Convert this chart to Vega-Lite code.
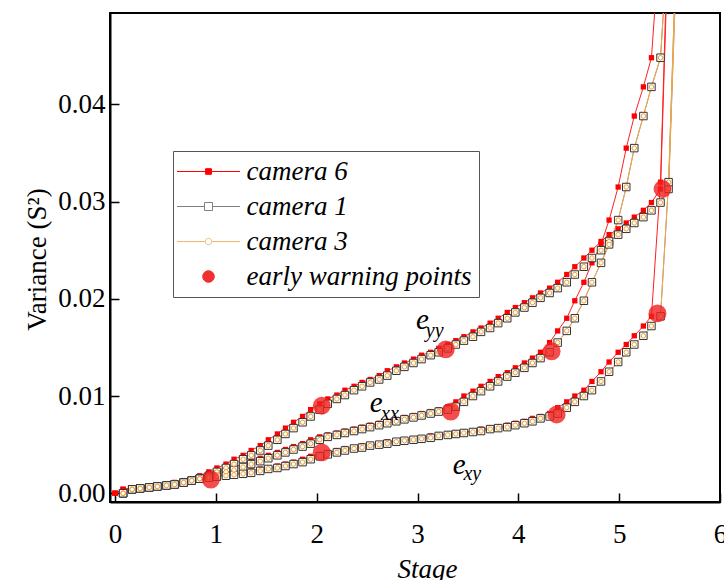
{
"$schema":"https://vega.github.io/schema/vega-lite/v6.json",
"width":610,"height":489,
"autosize":{"type":"none"},
"padding":{"left":110,"top":13,"right":4,"bottom":78},
"background":"white",
"config":{"font":"Liberation Serif","view":{"stroke":"black","strokeWidth":2},"axis":{"grid":false}},
"datasets":{
"curves":[
{"s":"yy","c":"camera 6","x":0,"y":0},{"s":"yy","c":"camera 6","x":0.08,"y":0.0004},{"s":"yy","c":"camera 6","x":0.17,"y":0.0005},{"s":"yy","c":"camera 6","x":0.25,"y":0.0006},{"s":"yy","c":"camera 6","x":0.34,"y":0.0007},{"s":"yy","c":"camera 6","x":0.42,"y":0.0008},{"s":"yy","c":"camera 6","x":0.51,"y":0.0009},{"s":"yy","c":"camera 6","x":0.59,"y":0.0011},{"s":"yy","c":"camera 6","x":0.68,"y":0.0013},{"s":"yy","c":"camera 6","x":0.76,"y":0.0015},
{"s":"yy","c":"camera 6","x":0.84,"y":0.0018},{"s":"yy","c":"camera 6","x":0.93,"y":0.0022},{"s":"yy","c":"camera 6","x":1.01,"y":0.0026},{"s":"yy","c":"camera 6","x":1.10,"y":0.0030},{"s":"yy","c":"camera 6","x":1.18,"y":0.0035},{"s":"yy","c":"camera 6","x":1.27,"y":0.0039},{"s":"yy","c":"camera 6","x":1.35,"y":0.0044},{"s":"yy","c":"camera 6","x":1.44,"y":0.0049},{"s":"yy","c":"camera 6","x":1.52,"y":0.0055},{"s":"yy","c":"camera 6","x":1.61,"y":0.0061},
{"s":"yy","c":"camera 6","x":1.69,"y":0.0067},{"s":"yy","c":"camera 6","x":1.77,"y":0.0073},{"s":"yy","c":"camera 6","x":1.86,"y":0.0079},{"s":"yy","c":"camera 6","x":1.94,"y":0.0086},{"s":"yy","c":"camera 6","x":2.03,"y":0.0092},{"s":"yy","c":"camera 6","x":2.11,"y":0.0097},{"s":"yy","c":"camera 6","x":2.20,"y":0.0101},{"s":"yy","c":"camera 6","x":2.28,"y":0.0106},{"s":"yy","c":"camera 6","x":2.37,"y":0.0110},{"s":"yy","c":"camera 6","x":2.45,"y":0.0114},
{"s":"yy","c":"camera 6","x":2.53,"y":0.0117},{"s":"yy","c":"camera 6","x":2.62,"y":0.0121},{"s":"yy","c":"camera 6","x":2.70,"y":0.0126},{"s":"yy","c":"camera 6","x":2.79,"y":0.0130},{"s":"yy","c":"camera 6","x":2.87,"y":0.0134},{"s":"yy","c":"camera 6","x":2.96,"y":0.0138},{"s":"yy","c":"camera 6","x":3.04,"y":0.0142},{"s":"yy","c":"camera 6","x":3.13,"y":0.0145},{"s":"yy","c":"camera 6","x":3.21,"y":0.0149},{"s":"yy","c":"camera 6","x":3.30,"y":0.0153},
{"s":"yy","c":"camera 6","x":3.38,"y":0.0157},{"s":"yy","c":"camera 6","x":3.46,"y":0.0161},{"s":"yy","c":"camera 6","x":3.55,"y":0.0166},{"s":"yy","c":"camera 6","x":3.63,"y":0.0170},{"s":"yy","c":"camera 6","x":3.72,"y":0.0175},{"s":"yy","c":"camera 6","x":3.80,"y":0.0180},{"s":"yy","c":"camera 6","x":3.89,"y":0.0186},{"s":"yy","c":"camera 6","x":3.97,"y":0.0191},{"s":"yy","c":"camera 6","x":4.06,"y":0.0196},{"s":"yy","c":"camera 6","x":4.14,"y":0.0201},
{"s":"yy","c":"camera 6","x":4.22,"y":0.0206},{"s":"yy","c":"camera 6","x":4.31,"y":0.0211},{"s":"yy","c":"camera 6","x":4.39,"y":0.0217},{"s":"yy","c":"camera 6","x":4.48,"y":0.0225},{"s":"yy","c":"camera 6","x":4.56,"y":0.0233},{"s":"yy","c":"camera 6","x":4.65,"y":0.0242},{"s":"yy","c":"camera 6","x":4.73,"y":0.0250},{"s":"yy","c":"camera 6","x":4.82,"y":0.0259},{"s":"yy","c":"camera 6","x":4.90,"y":0.0266},{"s":"yy","c":"camera 6","x":4.99,"y":0.0272},
{"s":"yy","c":"camera 6","x":5.07,"y":0.0278},{"s":"yy","c":"camera 6","x":5.15,"y":0.0284},{"s":"yy","c":"camera 6","x":5.24,"y":0.0291},{"s":"yy","c":"camera 6","x":5.32,"y":0.0299},{"s":"yy","c":"camera 6","x":5.41,"y":0.0313},{"s":"yy","c":"camera 6","x":5.49,"y":0.0580},
{"s":"xx","c":"camera 6","x":0,"y":0},{"s":"xx","c":"camera 6","x":0.08,"y":0.0004},{"s":"xx","c":"camera 6","x":0.17,"y":0.0005},{"s":"xx","c":"camera 6","x":0.25,"y":0.0006},{"s":"xx","c":"camera 6","x":0.34,"y":0.0007},{"s":"xx","c":"camera 6","x":0.42,"y":0.0008},{"s":"xx","c":"camera 6","x":0.51,"y":0.0009},{"s":"xx","c":"camera 6","x":0.59,"y":0.0011},{"s":"xx","c":"camera 6","x":0.68,"y":0.0013},{"s":"xx","c":"camera 6","x":0.76,"y":0.0015},
{"s":"xx","c":"camera 6","x":0.84,"y":0.0017},{"s":"xx","c":"camera 6","x":0.93,"y":0.0019},{"s":"xx","c":"camera 6","x":1.01,"y":0.0022},{"s":"xx","c":"camera 6","x":1.10,"y":0.0024},{"s":"xx","c":"camera 6","x":1.18,"y":0.0027},{"s":"xx","c":"camera 6","x":1.27,"y":0.0030},{"s":"xx","c":"camera 6","x":1.35,"y":0.0033},{"s":"xx","c":"camera 6","x":1.44,"y":0.0036},{"s":"xx","c":"camera 6","x":1.52,"y":0.0039},{"s":"xx","c":"camera 6","x":1.61,"y":0.0042},
{"s":"xx","c":"camera 6","x":1.69,"y":0.0045},{"s":"xx","c":"camera 6","x":1.77,"y":0.0048},{"s":"xx","c":"camera 6","x":1.86,"y":0.0051},{"s":"xx","c":"camera 6","x":1.94,"y":0.0055},{"s":"xx","c":"camera 6","x":2.03,"y":0.0058},{"s":"xx","c":"camera 6","x":2.11,"y":0.0060},{"s":"xx","c":"camera 6","x":2.20,"y":0.0062},{"s":"xx","c":"camera 6","x":2.28,"y":0.0064},{"s":"xx","c":"camera 6","x":2.37,"y":0.0066},{"s":"xx","c":"camera 6","x":2.45,"y":0.0068},
{"s":"xx","c":"camera 6","x":2.53,"y":0.0070},{"s":"xx","c":"camera 6","x":2.62,"y":0.0072},{"s":"xx","c":"camera 6","x":2.70,"y":0.0074},{"s":"xx","c":"camera 6","x":2.79,"y":0.0076},{"s":"xx","c":"camera 6","x":2.87,"y":0.0078},{"s":"xx","c":"camera 6","x":2.96,"y":0.0080},{"s":"xx","c":"camera 6","x":3.04,"y":0.0082},{"s":"xx","c":"camera 6","x":3.13,"y":0.0084},{"s":"xx","c":"camera 6","x":3.21,"y":0.0086},{"s":"xx","c":"camera 6","x":3.30,"y":0.0089},
{"s":"xx","c":"camera 6","x":3.38,"y":0.0094},{"s":"xx","c":"camera 6","x":3.46,"y":0.0100},{"s":"xx","c":"camera 6","x":3.55,"y":0.0105},{"s":"xx","c":"camera 6","x":3.63,"y":0.0110},{"s":"xx","c":"camera 6","x":3.72,"y":0.0115},{"s":"xx","c":"camera 6","x":3.80,"y":0.0120},{"s":"xx","c":"camera 6","x":3.89,"y":0.0124},{"s":"xx","c":"camera 6","x":3.97,"y":0.0129},{"s":"xx","c":"camera 6","x":4.06,"y":0.0134},{"s":"xx","c":"camera 6","x":4.14,"y":0.0139},
{"s":"xx","c":"camera 6","x":4.22,"y":0.0145},{"s":"xx","c":"camera 6","x":4.31,"y":0.0155},{"s":"xx","c":"camera 6","x":4.39,"y":0.0167},{"s":"xx","c":"camera 6","x":4.48,"y":0.0180},{"s":"xx","c":"camera 6","x":4.56,"y":0.0198},{"s":"xx","c":"camera 6","x":4.65,"y":0.0217},{"s":"xx","c":"camera 6","x":4.73,"y":0.0237},{"s":"xx","c":"camera 6","x":4.82,"y":0.0256},{"s":"xx","c":"camera 6","x":4.90,"y":0.0281},{"s":"xx","c":"camera 6","x":4.99,"y":0.0315},
{"s":"xx","c":"camera 6","x":5.07,"y":0.0355},{"s":"xx","c":"camera 6","x":5.15,"y":0.0388},{"s":"xx","c":"camera 6","x":5.24,"y":0.0418},{"s":"xx","c":"camera 6","x":5.32,"y":0.0448},{"s":"xx","c":"camera 6","x":5.41,"y":0.0580},
{"s":"xy","c":"camera 6","x":0,"y":0},{"s":"xy","c":"camera 6","x":0.08,"y":0.0004},{"s":"xy","c":"camera 6","x":0.17,"y":0.0005},{"s":"xy","c":"camera 6","x":0.25,"y":0.0006},{"s":"xy","c":"camera 6","x":0.34,"y":0.0007},{"s":"xy","c":"camera 6","x":0.42,"y":0.0008},{"s":"xy","c":"camera 6","x":0.51,"y":0.0009},{"s":"xy","c":"camera 6","x":0.59,"y":0.0011},{"s":"xy","c":"camera 6","x":0.68,"y":0.0013},{"s":"xy","c":"camera 6","x":0.76,"y":0.0015},
{"s":"xy","c":"camera 6","x":0.84,"y":0.0016},{"s":"xy","c":"camera 6","x":0.93,"y":0.0017},{"s":"xy","c":"camera 6","x":1.01,"y":0.0018},{"s":"xy","c":"camera 6","x":1.10,"y":0.0019},{"s":"xy","c":"camera 6","x":1.18,"y":0.0020},{"s":"xy","c":"camera 6","x":1.27,"y":0.0021},{"s":"xy","c":"camera 6","x":1.35,"y":0.0023},{"s":"xy","c":"camera 6","x":1.44,"y":0.0025},{"s":"xy","c":"camera 6","x":1.52,"y":0.0026},{"s":"xy","c":"camera 6","x":1.61,"y":0.0028},
{"s":"xy","c":"camera 6","x":1.69,"y":0.0030},{"s":"xy","c":"camera 6","x":1.77,"y":0.0032},{"s":"xy","c":"camera 6","x":1.86,"y":0.0035},{"s":"xy","c":"camera 6","x":1.94,"y":0.0038},{"s":"xy","c":"camera 6","x":2.03,"y":0.0040},{"s":"xy","c":"camera 6","x":2.11,"y":0.0042},{"s":"xy","c":"camera 6","x":2.20,"y":0.0044},{"s":"xy","c":"camera 6","x":2.28,"y":0.0046},{"s":"xy","c":"camera 6","x":2.37,"y":0.0047},{"s":"xy","c":"camera 6","x":2.45,"y":0.0049},
{"s":"xy","c":"camera 6","x":2.53,"y":0.0050},{"s":"xy","c":"camera 6","x":2.62,"y":0.0051},{"s":"xy","c":"camera 6","x":2.70,"y":0.0053},{"s":"xy","c":"camera 6","x":2.79,"y":0.0054},{"s":"xy","c":"camera 6","x":2.87,"y":0.0055},{"s":"xy","c":"camera 6","x":2.96,"y":0.0056},{"s":"xy","c":"camera 6","x":3.04,"y":0.0057},{"s":"xy","c":"camera 6","x":3.13,"y":0.0059},{"s":"xy","c":"camera 6","x":3.21,"y":0.0060},{"s":"xy","c":"camera 6","x":3.30,"y":0.0061},
{"s":"xy","c":"camera 6","x":3.38,"y":0.0062},{"s":"xy","c":"camera 6","x":3.46,"y":0.0063},{"s":"xy","c":"camera 6","x":3.55,"y":0.0064},{"s":"xy","c":"camera 6","x":3.63,"y":0.0066},{"s":"xy","c":"camera 6","x":3.72,"y":0.0067},{"s":"xy","c":"camera 6","x":3.80,"y":0.0068},{"s":"xy","c":"camera 6","x":3.89,"y":0.0070},{"s":"xy","c":"camera 6","x":3.97,"y":0.0072},{"s":"xy","c":"camera 6","x":4.06,"y":0.0074},{"s":"xy","c":"camera 6","x":4.14,"y":0.0077},
{"s":"xy","c":"camera 6","x":4.22,"y":0.0079},{"s":"xy","c":"camera 6","x":4.31,"y":0.0082},{"s":"xy","c":"camera 6","x":4.39,"y":0.0088},{"s":"xy","c":"camera 6","x":4.48,"y":0.0094},{"s":"xy","c":"camera 6","x":4.56,"y":0.0100},{"s":"xy","c":"camera 6","x":4.65,"y":0.0106},{"s":"xy","c":"camera 6","x":4.73,"y":0.0115},{"s":"xy","c":"camera 6","x":4.82,"y":0.0125},{"s":"xy","c":"camera 6","x":4.90,"y":0.0135},{"s":"xy","c":"camera 6","x":4.99,"y":0.0145},
{"s":"xy","c":"camera 6","x":5.07,"y":0.0153},{"s":"xy","c":"camera 6","x":5.15,"y":0.0162},{"s":"xy","c":"camera 6","x":5.24,"y":0.0172},{"s":"xy","c":"camera 6","x":5.32,"y":0.0182},{"s":"xy","c":"camera 6","x":5.41,"y":0.0320},{"s":"xy","c":"camera 6","x":5.49,"y":0.0600},

{"s":"yy","c":"camera 1","x":0.08,"y":0},{"s":"yy","c":"camera 1","x":0.17,"y":0.0004},{"s":"yy","c":"camera 1","x":0.25,"y":0.0005},{"s":"yy","c":"camera 1","x":0.34,"y":0.0006},{"s":"yy","c":"camera 1","x":0.42,"y":0.0007},{"s":"yy","c":"camera 1","x":0.51,"y":0.0008},{"s":"yy","c":"camera 1","x":0.59,"y":0.0009},{"s":"yy","c":"camera 1","x":0.68,"y":0.0011},{"s":"yy","c":"camera 1","x":0.76,"y":0.0013},{"s":"yy","c":"camera 1","x":0.84,"y":0.0015},
{"s":"yy","c":"camera 1","x":0.93,"y":0.0018},{"s":"yy","c":"camera 1","x":1.01,"y":0.0022},{"s":"yy","c":"camera 1","x":1.10,"y":0.0026},{"s":"yy","c":"camera 1","x":1.18,"y":0.0030},{"s":"yy","c":"camera 1","x":1.27,"y":0.0035},{"s":"yy","c":"camera 1","x":1.35,"y":0.0039},{"s":"yy","c":"camera 1","x":1.44,"y":0.0044},{"s":"yy","c":"camera 1","x":1.52,"y":0.0049},{"s":"yy","c":"camera 1","x":1.61,"y":0.0055},{"s":"yy","c":"camera 1","x":1.69,"y":0.0061},
{"s":"yy","c":"camera 1","x":1.77,"y":0.0067},{"s":"yy","c":"camera 1","x":1.86,"y":0.0073},{"s":"yy","c":"camera 1","x":1.94,"y":0.0079},{"s":"yy","c":"camera 1","x":2.03,"y":0.0086},{"s":"yy","c":"camera 1","x":2.11,"y":0.0092},{"s":"yy","c":"camera 1","x":2.20,"y":0.0097},{"s":"yy","c":"camera 1","x":2.28,"y":0.0101},{"s":"yy","c":"camera 1","x":2.37,"y":0.0106},{"s":"yy","c":"camera 1","x":2.45,"y":0.0110},{"s":"yy","c":"camera 1","x":2.53,"y":0.0114},
{"s":"yy","c":"camera 1","x":2.62,"y":0.0117},{"s":"yy","c":"camera 1","x":2.70,"y":0.0121},{"s":"yy","c":"camera 1","x":2.79,"y":0.0126},{"s":"yy","c":"camera 1","x":2.87,"y":0.0130},{"s":"yy","c":"camera 1","x":2.96,"y":0.0134},{"s":"yy","c":"camera 1","x":3.04,"y":0.0138},{"s":"yy","c":"camera 1","x":3.13,"y":0.0142},{"s":"yy","c":"camera 1","x":3.21,"y":0.0145},{"s":"yy","c":"camera 1","x":3.30,"y":0.0149},{"s":"yy","c":"camera 1","x":3.38,"y":0.0153},
{"s":"yy","c":"camera 1","x":3.46,"y":0.0157},{"s":"yy","c":"camera 1","x":3.55,"y":0.0161},{"s":"yy","c":"camera 1","x":3.63,"y":0.0166},{"s":"yy","c":"camera 1","x":3.72,"y":0.0170},{"s":"yy","c":"camera 1","x":3.80,"y":0.0175},{"s":"yy","c":"camera 1","x":3.89,"y":0.0180},{"s":"yy","c":"camera 1","x":3.97,"y":0.0186},{"s":"yy","c":"camera 1","x":4.06,"y":0.0191},{"s":"yy","c":"camera 1","x":4.14,"y":0.0196},{"s":"yy","c":"camera 1","x":4.22,"y":0.0201},
{"s":"yy","c":"camera 1","x":4.31,"y":0.0206},{"s":"yy","c":"camera 1","x":4.39,"y":0.0211},{"s":"yy","c":"camera 1","x":4.48,"y":0.0217},{"s":"yy","c":"camera 1","x":4.56,"y":0.0225},{"s":"yy","c":"camera 1","x":4.65,"y":0.0233},{"s":"yy","c":"camera 1","x":4.73,"y":0.0242},{"s":"yy","c":"camera 1","x":4.82,"y":0.0250},{"s":"yy","c":"camera 1","x":4.90,"y":0.0259},{"s":"yy","c":"camera 1","x":4.99,"y":0.0266},{"s":"yy","c":"camera 1","x":5.07,"y":0.0272},
{"s":"yy","c":"camera 1","x":5.15,"y":0.0278},{"s":"yy","c":"camera 1","x":5.24,"y":0.0284},{"s":"yy","c":"camera 1","x":5.32,"y":0.0291},{"s":"yy","c":"camera 1","x":5.41,"y":0.0299},{"s":"yy","c":"camera 1","x":5.49,"y":0.0313},{"s":"yy","c":"camera 1","x":5.58,"y":0.0580},
{"s":"xx","c":"camera 1","x":0.08,"y":0},{"s":"xx","c":"camera 1","x":0.17,"y":0.0004},{"s":"xx","c":"camera 1","x":0.25,"y":0.0005},{"s":"xx","c":"camera 1","x":0.34,"y":0.0006},{"s":"xx","c":"camera 1","x":0.42,"y":0.0007},{"s":"xx","c":"camera 1","x":0.51,"y":0.0008},{"s":"xx","c":"camera 1","x":0.59,"y":0.0009},{"s":"xx","c":"camera 1","x":0.68,"y":0.0011},{"s":"xx","c":"camera 1","x":0.76,"y":0.0013},{"s":"xx","c":"camera 1","x":0.84,"y":0.0015},
{"s":"xx","c":"camera 1","x":0.93,"y":0.0017},{"s":"xx","c":"camera 1","x":1.01,"y":0.0019},{"s":"xx","c":"camera 1","x":1.10,"y":0.0022},{"s":"xx","c":"camera 1","x":1.18,"y":0.0024},{"s":"xx","c":"camera 1","x":1.27,"y":0.0027},{"s":"xx","c":"camera 1","x":1.35,"y":0.0030},{"s":"xx","c":"camera 1","x":1.44,"y":0.0033},{"s":"xx","c":"camera 1","x":1.52,"y":0.0036},{"s":"xx","c":"camera 1","x":1.61,"y":0.0039},{"s":"xx","c":"camera 1","x":1.69,"y":0.0042},
{"s":"xx","c":"camera 1","x":1.77,"y":0.0045},{"s":"xx","c":"camera 1","x":1.86,"y":0.0048},{"s":"xx","c":"camera 1","x":1.94,"y":0.0051},{"s":"xx","c":"camera 1","x":2.03,"y":0.0055},{"s":"xx","c":"camera 1","x":2.11,"y":0.0058},{"s":"xx","c":"camera 1","x":2.20,"y":0.0060},{"s":"xx","c":"camera 1","x":2.28,"y":0.0062},{"s":"xx","c":"camera 1","x":2.37,"y":0.0064},{"s":"xx","c":"camera 1","x":2.45,"y":0.0066},{"s":"xx","c":"camera 1","x":2.53,"y":0.0068},
{"s":"xx","c":"camera 1","x":2.62,"y":0.0070},{"s":"xx","c":"camera 1","x":2.70,"y":0.0072},{"s":"xx","c":"camera 1","x":2.79,"y":0.0074},{"s":"xx","c":"camera 1","x":2.87,"y":0.0076},{"s":"xx","c":"camera 1","x":2.96,"y":0.0078},{"s":"xx","c":"camera 1","x":3.04,"y":0.0080},{"s":"xx","c":"camera 1","x":3.13,"y":0.0082},{"s":"xx","c":"camera 1","x":3.21,"y":0.0084},{"s":"xx","c":"camera 1","x":3.30,"y":0.0086},{"s":"xx","c":"camera 1","x":3.38,"y":0.0089},
{"s":"xx","c":"camera 1","x":3.46,"y":0.0094},{"s":"xx","c":"camera 1","x":3.55,"y":0.0100},{"s":"xx","c":"camera 1","x":3.63,"y":0.0105},{"s":"xx","c":"camera 1","x":3.72,"y":0.0110},{"s":"xx","c":"camera 1","x":3.80,"y":0.0115},{"s":"xx","c":"camera 1","x":3.89,"y":0.0120},{"s":"xx","c":"camera 1","x":3.97,"y":0.0124},{"s":"xx","c":"camera 1","x":4.06,"y":0.0129},{"s":"xx","c":"camera 1","x":4.14,"y":0.0134},{"s":"xx","c":"camera 1","x":4.22,"y":0.0139},
{"s":"xx","c":"camera 1","x":4.31,"y":0.0145},{"s":"xx","c":"camera 1","x":4.39,"y":0.0155},{"s":"xx","c":"camera 1","x":4.48,"y":0.0167},{"s":"xx","c":"camera 1","x":4.56,"y":0.0180},{"s":"xx","c":"camera 1","x":4.65,"y":0.0198},{"s":"xx","c":"camera 1","x":4.73,"y":0.0217},{"s":"xx","c":"camera 1","x":4.82,"y":0.0237},{"s":"xx","c":"camera 1","x":4.90,"y":0.0256},{"s":"xx","c":"camera 1","x":4.99,"y":0.0281},{"s":"xx","c":"camera 1","x":5.07,"y":0.0315},
{"s":"xx","c":"camera 1","x":5.15,"y":0.0355},{"s":"xx","c":"camera 1","x":5.24,"y":0.0388},{"s":"xx","c":"camera 1","x":5.32,"y":0.0418},{"s":"xx","c":"camera 1","x":5.41,"y":0.0448},{"s":"xx","c":"camera 1","x":5.49,"y":0.0580},
{"s":"xy","c":"camera 1","x":0.08,"y":0},{"s":"xy","c":"camera 1","x":0.17,"y":0.0004},{"s":"xy","c":"camera 1","x":0.25,"y":0.0005},{"s":"xy","c":"camera 1","x":0.34,"y":0.0006},{"s":"xy","c":"camera 1","x":0.42,"y":0.0007},{"s":"xy","c":"camera 1","x":0.51,"y":0.0008},{"s":"xy","c":"camera 1","x":0.59,"y":0.0009},{"s":"xy","c":"camera 1","x":0.68,"y":0.0011},{"s":"xy","c":"camera 1","x":0.76,"y":0.0013},{"s":"xy","c":"camera 1","x":0.84,"y":0.0015},
{"s":"xy","c":"camera 1","x":0.93,"y":0.0016},{"s":"xy","c":"camera 1","x":1.01,"y":0.0017},{"s":"xy","c":"camera 1","x":1.10,"y":0.0018},{"s":"xy","c":"camera 1","x":1.18,"y":0.0019},{"s":"xy","c":"camera 1","x":1.27,"y":0.0020},{"s":"xy","c":"camera 1","x":1.35,"y":0.0021},{"s":"xy","c":"camera 1","x":1.44,"y":0.0023},{"s":"xy","c":"camera 1","x":1.52,"y":0.0025},{"s":"xy","c":"camera 1","x":1.61,"y":0.0026},{"s":"xy","c":"camera 1","x":1.69,"y":0.0028},
{"s":"xy","c":"camera 1","x":1.77,"y":0.0030},{"s":"xy","c":"camera 1","x":1.86,"y":0.0032},{"s":"xy","c":"camera 1","x":1.94,"y":0.0035},{"s":"xy","c":"camera 1","x":2.03,"y":0.0038},{"s":"xy","c":"camera 1","x":2.11,"y":0.0040},{"s":"xy","c":"camera 1","x":2.20,"y":0.0042},{"s":"xy","c":"camera 1","x":2.28,"y":0.0044},{"s":"xy","c":"camera 1","x":2.37,"y":0.0046},{"s":"xy","c":"camera 1","x":2.45,"y":0.0047},{"s":"xy","c":"camera 1","x":2.53,"y":0.0049},
{"s":"xy","c":"camera 1","x":2.62,"y":0.0050},{"s":"xy","c":"camera 1","x":2.70,"y":0.0051},{"s":"xy","c":"camera 1","x":2.79,"y":0.0053},{"s":"xy","c":"camera 1","x":2.87,"y":0.0054},{"s":"xy","c":"camera 1","x":2.96,"y":0.0055},{"s":"xy","c":"camera 1","x":3.04,"y":0.0056},{"s":"xy","c":"camera 1","x":3.13,"y":0.0057},{"s":"xy","c":"camera 1","x":3.21,"y":0.0059},{"s":"xy","c":"camera 1","x":3.30,"y":0.0060},{"s":"xy","c":"camera 1","x":3.38,"y":0.0061},
{"s":"xy","c":"camera 1","x":3.46,"y":0.0062},{"s":"xy","c":"camera 1","x":3.55,"y":0.0063},{"s":"xy","c":"camera 1","x":3.63,"y":0.0064},{"s":"xy","c":"camera 1","x":3.72,"y":0.0066},{"s":"xy","c":"camera 1","x":3.80,"y":0.0067},{"s":"xy","c":"camera 1","x":3.89,"y":0.0068},{"s":"xy","c":"camera 1","x":3.97,"y":0.0070},{"s":"xy","c":"camera 1","x":4.06,"y":0.0072},{"s":"xy","c":"camera 1","x":4.14,"y":0.0074},{"s":"xy","c":"camera 1","x":4.22,"y":0.0077},
{"s":"xy","c":"camera 1","x":4.31,"y":0.0079},{"s":"xy","c":"camera 1","x":4.39,"y":0.0082},{"s":"xy","c":"camera 1","x":4.48,"y":0.0088},{"s":"xy","c":"camera 1","x":4.56,"y":0.0094},{"s":"xy","c":"camera 1","x":4.65,"y":0.0100},{"s":"xy","c":"camera 1","x":4.73,"y":0.0106},{"s":"xy","c":"camera 1","x":4.82,"y":0.0115},{"s":"xy","c":"camera 1","x":4.90,"y":0.0125},{"s":"xy","c":"camera 1","x":4.99,"y":0.0135},{"s":"xy","c":"camera 1","x":5.07,"y":0.0145},
{"s":"xy","c":"camera 1","x":5.15,"y":0.0153},{"s":"xy","c":"camera 1","x":5.24,"y":0.0162},{"s":"xy","c":"camera 1","x":5.32,"y":0.0172},{"s":"xy","c":"camera 1","x":5.41,"y":0.0182},{"s":"xy","c":"camera 1","x":5.49,"y":0.0320},{"s":"xy","c":"camera 1","x":5.58,"y":0.0600},

{"s":"yy","c":"camera 3","x":0.08,"y":0},{"s":"yy","c":"camera 3","x":0.17,"y":0.0004},{"s":"yy","c":"camera 3","x":0.25,"y":0.0005},{"s":"yy","c":"camera 3","x":0.34,"y":0.0006},{"s":"yy","c":"camera 3","x":0.42,"y":0.0007},{"s":"yy","c":"camera 3","x":0.51,"y":0.0008},{"s":"yy","c":"camera 3","x":0.59,"y":0.0009},{"s":"yy","c":"camera 3","x":0.68,"y":0.0011},{"s":"yy","c":"camera 3","x":0.76,"y":0.0013},{"s":"yy","c":"camera 3","x":0.84,"y":0.0015},
{"s":"yy","c":"camera 3","x":0.93,"y":0.0018},{"s":"yy","c":"camera 3","x":1.01,"y":0.0022},{"s":"yy","c":"camera 3","x":1.10,"y":0.0026},{"s":"yy","c":"camera 3","x":1.18,"y":0.0030},{"s":"yy","c":"camera 3","x":1.27,"y":0.0035},{"s":"yy","c":"camera 3","x":1.35,"y":0.0039},{"s":"yy","c":"camera 3","x":1.44,"y":0.0044},{"s":"yy","c":"camera 3","x":1.52,"y":0.0049},{"s":"yy","c":"camera 3","x":1.61,"y":0.0055},{"s":"yy","c":"camera 3","x":1.69,"y":0.0061},
{"s":"yy","c":"camera 3","x":1.77,"y":0.0067},{"s":"yy","c":"camera 3","x":1.86,"y":0.0073},{"s":"yy","c":"camera 3","x":1.94,"y":0.0079},{"s":"yy","c":"camera 3","x":2.03,"y":0.0086},{"s":"yy","c":"camera 3","x":2.11,"y":0.0092},{"s":"yy","c":"camera 3","x":2.20,"y":0.0097},{"s":"yy","c":"camera 3","x":2.28,"y":0.0101},{"s":"yy","c":"camera 3","x":2.37,"y":0.0106},{"s":"yy","c":"camera 3","x":2.45,"y":0.0110},{"s":"yy","c":"camera 3","x":2.53,"y":0.0114},
{"s":"yy","c":"camera 3","x":2.62,"y":0.0117},{"s":"yy","c":"camera 3","x":2.70,"y":0.0121},{"s":"yy","c":"camera 3","x":2.79,"y":0.0126},{"s":"yy","c":"camera 3","x":2.87,"y":0.0130},{"s":"yy","c":"camera 3","x":2.96,"y":0.0134},{"s":"yy","c":"camera 3","x":3.04,"y":0.0138},{"s":"yy","c":"camera 3","x":3.13,"y":0.0142},{"s":"yy","c":"camera 3","x":3.21,"y":0.0145},{"s":"yy","c":"camera 3","x":3.30,"y":0.0149},{"s":"yy","c":"camera 3","x":3.38,"y":0.0153},
{"s":"yy","c":"camera 3","x":3.46,"y":0.0157},{"s":"yy","c":"camera 3","x":3.55,"y":0.0161},{"s":"yy","c":"camera 3","x":3.63,"y":0.0166},{"s":"yy","c":"camera 3","x":3.72,"y":0.0170},{"s":"yy","c":"camera 3","x":3.80,"y":0.0175},{"s":"yy","c":"camera 3","x":3.89,"y":0.0180},{"s":"yy","c":"camera 3","x":3.97,"y":0.0186},{"s":"yy","c":"camera 3","x":4.06,"y":0.0191},{"s":"yy","c":"camera 3","x":4.14,"y":0.0196},{"s":"yy","c":"camera 3","x":4.22,"y":0.0201},
{"s":"yy","c":"camera 3","x":4.31,"y":0.0206},{"s":"yy","c":"camera 3","x":4.39,"y":0.0211},{"s":"yy","c":"camera 3","x":4.48,"y":0.0217},{"s":"yy","c":"camera 3","x":4.56,"y":0.0225},{"s":"yy","c":"camera 3","x":4.65,"y":0.0233},{"s":"yy","c":"camera 3","x":4.73,"y":0.0242},{"s":"yy","c":"camera 3","x":4.82,"y":0.0250},{"s":"yy","c":"camera 3","x":4.90,"y":0.0259},{"s":"yy","c":"camera 3","x":4.99,"y":0.0266},{"s":"yy","c":"camera 3","x":5.07,"y":0.0272},
{"s":"yy","c":"camera 3","x":5.15,"y":0.0278},{"s":"yy","c":"camera 3","x":5.24,"y":0.0284},{"s":"yy","c":"camera 3","x":5.32,"y":0.0291},{"s":"yy","c":"camera 3","x":5.41,"y":0.0299},{"s":"yy","c":"camera 3","x":5.49,"y":0.0313},{"s":"yy","c":"camera 3","x":5.58,"y":0.0580},
{"s":"xx","c":"camera 3","x":0.08,"y":0},{"s":"xx","c":"camera 3","x":0.17,"y":0.0004},{"s":"xx","c":"camera 3","x":0.25,"y":0.0005},{"s":"xx","c":"camera 3","x":0.34,"y":0.0006},{"s":"xx","c":"camera 3","x":0.42,"y":0.0007},{"s":"xx","c":"camera 3","x":0.51,"y":0.0008},{"s":"xx","c":"camera 3","x":0.59,"y":0.0009},{"s":"xx","c":"camera 3","x":0.68,"y":0.0011},{"s":"xx","c":"camera 3","x":0.76,"y":0.0013},{"s":"xx","c":"camera 3","x":0.84,"y":0.0015},
{"s":"xx","c":"camera 3","x":0.93,"y":0.0017},{"s":"xx","c":"camera 3","x":1.01,"y":0.0019},{"s":"xx","c":"camera 3","x":1.10,"y":0.0022},{"s":"xx","c":"camera 3","x":1.18,"y":0.0024},{"s":"xx","c":"camera 3","x":1.27,"y":0.0027},{"s":"xx","c":"camera 3","x":1.35,"y":0.0030},{"s":"xx","c":"camera 3","x":1.44,"y":0.0033},{"s":"xx","c":"camera 3","x":1.52,"y":0.0036},{"s":"xx","c":"camera 3","x":1.61,"y":0.0039},{"s":"xx","c":"camera 3","x":1.69,"y":0.0042},
{"s":"xx","c":"camera 3","x":1.77,"y":0.0045},{"s":"xx","c":"camera 3","x":1.86,"y":0.0048},{"s":"xx","c":"camera 3","x":1.94,"y":0.0051},{"s":"xx","c":"camera 3","x":2.03,"y":0.0055},{"s":"xx","c":"camera 3","x":2.11,"y":0.0058},{"s":"xx","c":"camera 3","x":2.20,"y":0.0060},{"s":"xx","c":"camera 3","x":2.28,"y":0.0062},{"s":"xx","c":"camera 3","x":2.37,"y":0.0064},{"s":"xx","c":"camera 3","x":2.45,"y":0.0066},{"s":"xx","c":"camera 3","x":2.53,"y":0.0068},
{"s":"xx","c":"camera 3","x":2.62,"y":0.0070},{"s":"xx","c":"camera 3","x":2.70,"y":0.0072},{"s":"xx","c":"camera 3","x":2.79,"y":0.0074},{"s":"xx","c":"camera 3","x":2.87,"y":0.0076},{"s":"xx","c":"camera 3","x":2.96,"y":0.0078},{"s":"xx","c":"camera 3","x":3.04,"y":0.0080},{"s":"xx","c":"camera 3","x":3.13,"y":0.0082},{"s":"xx","c":"camera 3","x":3.21,"y":0.0084},{"s":"xx","c":"camera 3","x":3.30,"y":0.0086},{"s":"xx","c":"camera 3","x":3.38,"y":0.0089},
{"s":"xx","c":"camera 3","x":3.46,"y":0.0094},{"s":"xx","c":"camera 3","x":3.55,"y":0.0100},{"s":"xx","c":"camera 3","x":3.63,"y":0.0105},{"s":"xx","c":"camera 3","x":3.72,"y":0.0110},{"s":"xx","c":"camera 3","x":3.80,"y":0.0115},{"s":"xx","c":"camera 3","x":3.89,"y":0.0120},{"s":"xx","c":"camera 3","x":3.97,"y":0.0124},{"s":"xx","c":"camera 3","x":4.06,"y":0.0129},{"s":"xx","c":"camera 3","x":4.14,"y":0.0134},{"s":"xx","c":"camera 3","x":4.22,"y":0.0139},
{"s":"xx","c":"camera 3","x":4.31,"y":0.0145},{"s":"xx","c":"camera 3","x":4.39,"y":0.0155},{"s":"xx","c":"camera 3","x":4.48,"y":0.0167},{"s":"xx","c":"camera 3","x":4.56,"y":0.0180},{"s":"xx","c":"camera 3","x":4.65,"y":0.0198},{"s":"xx","c":"camera 3","x":4.73,"y":0.0217},{"s":"xx","c":"camera 3","x":4.82,"y":0.0237},{"s":"xx","c":"camera 3","x":4.90,"y":0.0256},{"s":"xx","c":"camera 3","x":4.99,"y":0.0281},{"s":"xx","c":"camera 3","x":5.07,"y":0.0315},
{"s":"xx","c":"camera 3","x":5.15,"y":0.0355},{"s":"xx","c":"camera 3","x":5.24,"y":0.0388},{"s":"xx","c":"camera 3","x":5.32,"y":0.0418},{"s":"xx","c":"camera 3","x":5.41,"y":0.0448},{"s":"xx","c":"camera 3","x":5.49,"y":0.0580},
{"s":"xy","c":"camera 3","x":0.08,"y":0},{"s":"xy","c":"camera 3","x":0.17,"y":0.0004},{"s":"xy","c":"camera 3","x":0.25,"y":0.0005},{"s":"xy","c":"camera 3","x":0.34,"y":0.0006},{"s":"xy","c":"camera 3","x":0.42,"y":0.0007},{"s":"xy","c":"camera 3","x":0.51,"y":0.0008},{"s":"xy","c":"camera 3","x":0.59,"y":0.0009},{"s":"xy","c":"camera 3","x":0.68,"y":0.0011},{"s":"xy","c":"camera 3","x":0.76,"y":0.0013},{"s":"xy","c":"camera 3","x":0.84,"y":0.0015},
{"s":"xy","c":"camera 3","x":0.93,"y":0.0016},{"s":"xy","c":"camera 3","x":1.01,"y":0.0017},{"s":"xy","c":"camera 3","x":1.10,"y":0.0018},{"s":"xy","c":"camera 3","x":1.18,"y":0.0019},{"s":"xy","c":"camera 3","x":1.27,"y":0.0020},{"s":"xy","c":"camera 3","x":1.35,"y":0.0021},{"s":"xy","c":"camera 3","x":1.44,"y":0.0023},{"s":"xy","c":"camera 3","x":1.52,"y":0.0025},{"s":"xy","c":"camera 3","x":1.61,"y":0.0026},{"s":"xy","c":"camera 3","x":1.69,"y":0.0028},
{"s":"xy","c":"camera 3","x":1.77,"y":0.0030},{"s":"xy","c":"camera 3","x":1.86,"y":0.0032},{"s":"xy","c":"camera 3","x":1.94,"y":0.0035},{"s":"xy","c":"camera 3","x":2.03,"y":0.0038},{"s":"xy","c":"camera 3","x":2.11,"y":0.0040},{"s":"xy","c":"camera 3","x":2.20,"y":0.0042},{"s":"xy","c":"camera 3","x":2.28,"y":0.0044},{"s":"xy","c":"camera 3","x":2.37,"y":0.0046},{"s":"xy","c":"camera 3","x":2.45,"y":0.0047},{"s":"xy","c":"camera 3","x":2.53,"y":0.0049},
{"s":"xy","c":"camera 3","x":2.62,"y":0.0050},{"s":"xy","c":"camera 3","x":2.70,"y":0.0051},{"s":"xy","c":"camera 3","x":2.79,"y":0.0053},{"s":"xy","c":"camera 3","x":2.87,"y":0.0054},{"s":"xy","c":"camera 3","x":2.96,"y":0.0055},{"s":"xy","c":"camera 3","x":3.04,"y":0.0056},{"s":"xy","c":"camera 3","x":3.13,"y":0.0057},{"s":"xy","c":"camera 3","x":3.21,"y":0.0059},{"s":"xy","c":"camera 3","x":3.30,"y":0.0060},{"s":"xy","c":"camera 3","x":3.38,"y":0.0061},
{"s":"xy","c":"camera 3","x":3.46,"y":0.0062},{"s":"xy","c":"camera 3","x":3.55,"y":0.0063},{"s":"xy","c":"camera 3","x":3.63,"y":0.0064},{"s":"xy","c":"camera 3","x":3.72,"y":0.0066},{"s":"xy","c":"camera 3","x":3.80,"y":0.0067},{"s":"xy","c":"camera 3","x":3.89,"y":0.0068},{"s":"xy","c":"camera 3","x":3.97,"y":0.0070},{"s":"xy","c":"camera 3","x":4.06,"y":0.0072},{"s":"xy","c":"camera 3","x":4.14,"y":0.0074},{"s":"xy","c":"camera 3","x":4.22,"y":0.0077},
{"s":"xy","c":"camera 3","x":4.31,"y":0.0079},{"s":"xy","c":"camera 3","x":4.39,"y":0.0082},{"s":"xy","c":"camera 3","x":4.48,"y":0.0088},{"s":"xy","c":"camera 3","x":4.56,"y":0.0094},{"s":"xy","c":"camera 3","x":4.65,"y":0.0100},{"s":"xy","c":"camera 3","x":4.73,"y":0.0106},{"s":"xy","c":"camera 3","x":4.82,"y":0.0115},{"s":"xy","c":"camera 3","x":4.90,"y":0.0125},{"s":"xy","c":"camera 3","x":4.99,"y":0.0135},{"s":"xy","c":"camera 3","x":5.07,"y":0.0145},
{"s":"xy","c":"camera 3","x":5.15,"y":0.0153},{"s":"xy","c":"camera 3","x":5.24,"y":0.0162},{"s":"xy","c":"camera 3","x":5.32,"y":0.0172},{"s":"xy","c":"camera 3","x":5.41,"y":0.0182},{"s":"xy","c":"camera 3","x":5.49,"y":0.0320},{"s":"xy","c":"camera 3","x":5.58,"y":0.0600}
],
"warn":[
{"s":"xx","c":"early warning points","x":0.95,"y":0.0014},{"s":"xy","c":"early warning points","x":2.05,"y":0.0042},{"s":"yy","c":"early warning points","x":2.05,"y":0.0090},{"s":"yy","c":"early warning points","x":3.28,"y":0.0148},{"s":"xx","c":"early warning points","x":3.33,"y":0.0084},{"s":"xx","c":"early warning points","x":4.33,"y":0.0146},{"s":"xy","c":"early warning points","x":4.38,"y":0.0081},{"s":"xy","c":"early warning points","x":5.38,"y":0.0185},{"s":"yy","c":"early warning points","x":5.43,"y":0.0313}
],
"notes":[
{"t":"e","part":"base","x":3.05,"y":0.01694},{"t":"yy","part":"sub","x":3.17,"y":0.01607},
{"t":"e","part":"base","x":2.589,"y":0.00836},{"t":"xx","part":"sub","x":2.727,"y":0.00758},
{"t":"e","part":"base","x":3.414,"y":0.00203},{"t":"xy","part":"sub","x":3.543,"y":0.00134}
]
},
"encoding":{
"x":{"field":"x","type":"quantitative","scale":{"domain":[-0.05,6],"nice":false,"zero":false},
 "axis":{"title":"Stage","values":[0,1,2,3,4,5,6],"format":"d","labelFlush":false,"labelOverlap":false,
  "domainColor":"black","domainWidth":2,"tickColor":"black","tickWidth":1.5,"tickSize":-9,
  "labelFont":"Liberation Serif","labelFontSize":27,"labelColor":"black","labelPadding":28,
  "titleFont":"Liberation Serif","titleFontSize":27,"titleFontStyle":"italic","titleFontWeight":"normal","titleColor":"black",
  "titleX":317,"titleY":75,"titleBaseline":"alphabetic","titleAlign":"center"}},
"y":{"field":"y","type":"quantitative","scale":{"domain":[-0.0009,0.0494],"nice":false,"zero":false},
 "axis":{"title":"Variance (S²)","values":[0,0.01,0.02,0.03,0.04],"format":".2f","labelOverlap":false,
  "domainColor":"black","domainWidth":2,"tickColor":"black","tickWidth":1.5,"tickSize":-9,
  "labelFont":"Liberation Serif","labelFontSize":27,"labelColor":"black","labelPadding":14,
  "titleFont":"Liberation Serif","titleFontSize":27,"titleFontWeight":"normal","titleColor":"black",
  "titleX":-65,"titleY":246,"titleAngle":-90,"titleBaseline":"alphabetic","titleAlign":"center"}}
},
"layer":[
{"data":{"name":"curves"},"mark":{"type":"line","strokeWidth":1,"clip":true},
 "encoding":{
  "detail":{"field":"s"},
  "color":{"field":"c","type":"nominal","legend":null,
   "scale":{"domain":["camera 6","camera 1","camera 3"],"range":["#ff2020","#8c8c8c","#f5a742"]}}}},
{"data":{"name":"curves"},"transform":[{"filter":"datum.c === 'camera 6'"}],
 "mark":{"type":"point","shape":"square","filled":true,"fill":"#ff0000","strokeWidth":0,"size":28,"opacity":1,"clip":true}},
{"data":{"name":"curves"},"transform":[{"filter":"datum.c === 'camera 1'"}],
 "mark":{"type":"point","shape":"square","filled":true,"fill":"white","stroke":"#333333","strokeWidth":1,"size":56,"opacity":1,"clip":true}},
{"data":{"name":"curves"},"transform":[{"filter":"datum.c === 'camera 3'"}],
 "mark":{"type":"point","shape":"circle","filled":true,"fill":"white","stroke":"#f0a030","strokeWidth":1,"size":20,"opacity":1,"clip":true}},
{"data":{"name":"warn"},"mark":{"type":"circle","size":320,"color":"#f02020","opacity":0.8}},
{"data":{"name":"warn"},"transform":[{"filter":"datum.x > 100"}],
 "mark":{"type":"point","filled":true,"opacity":1,"strokeWidth":1},
 "encoding":{
  "shape":{"field":"c","type":"nominal",
   "scale":{"domain":["camera 6","camera 1","camera 3","early warning points"],
    "range":["M0,0H31.5M14.3,-1.4H17.2V1.4H14.3Z","M0,0H13.75M17.75,0H31.5M13.75,-2H17.75V2H13.75Z","M0,0H14.15M17.35,0H31.5M14.15,0A1.6,1.6,0,1,1,17.35,0A1.6,1.6,0,1,1,14.15,0Z","M12.85,0A2.9,2.9,0,1,1,18.65,0A2.9,2.9,0,1,1,12.85,0Z"]},
   "legend":{"orient":"none","legendX":63,"legendY":138,"title":null,"direction":"vertical","padding":7,
    "fillColor":"white","strokeColor":"#555555","symbolSize":16,"symbolStrokeWidth":1,"symbolOpacity":1,
    "labelFont":"Liberation Serif","labelFontStyle":"italic","labelFontSize":27,"labelColor":"black","labelLimit":400,
    "labelOffset":56,"symbolOffset":-16.5,"rowPadding":7}},
  "fill":{"field":"c","type":"nominal",
   "scale":{"domain":["camera 6","camera 1","camera 3","early warning points"],"range":["#ff0000","#ffffff","#ffffff","#f03030"]},
   "legend":{"orient":"none","legendX":63,"legendY":138,"title":null,"direction":"vertical","padding":7,
    "fillColor":"white","strokeColor":"#555555","symbolSize":16,"symbolStrokeWidth":1,"symbolOpacity":1,
    "labelFont":"Liberation Serif","labelFontStyle":"italic","labelFontSize":27,"labelColor":"black","labelLimit":400,
    "labelOffset":56,"symbolOffset":-16.5,"rowPadding":7}},
  "stroke":{"field":"c","type":"nominal",
   "scale":{"domain":["camera 6","camera 1","camera 3","early warning points"],"range":["#ff0000","#808080","#f2b66a","#f03030"]},
   "legend":{"orient":"none","legendX":63,"legendY":138,"title":null,"direction":"vertical","padding":7,
    "fillColor":"white","strokeColor":"#555555","symbolSize":16,"symbolStrokeWidth":1,"symbolOpacity":1,
    "labelFont":"Liberation Serif","labelFontStyle":"italic","labelFontSize":27,"labelColor":"black","labelLimit":400,
    "labelOffset":56,"symbolOffset":-16.5,"rowPadding":7}}}},
{"data":{"name":"notes"},"transform":[{"filter":"datum.part === 'base'"}],
 "mark":{"type":"text","font":"Liberation Serif","fontStyle":"italic","fontSize":29,"color":"black","align":"center","baseline":"alphabetic"},
 "encoding":{"text":{"field":"t"}}},
{"data":{"name":"notes"},"transform":[{"filter":"datum.part === 'sub'"}],
 "mark":{"type":"text","font":"Liberation Serif","fontStyle":"italic","fontSize":20,"color":"black","align":"center","baseline":"alphabetic"},
 "encoding":{"text":{"field":"t"}}}
]
}
